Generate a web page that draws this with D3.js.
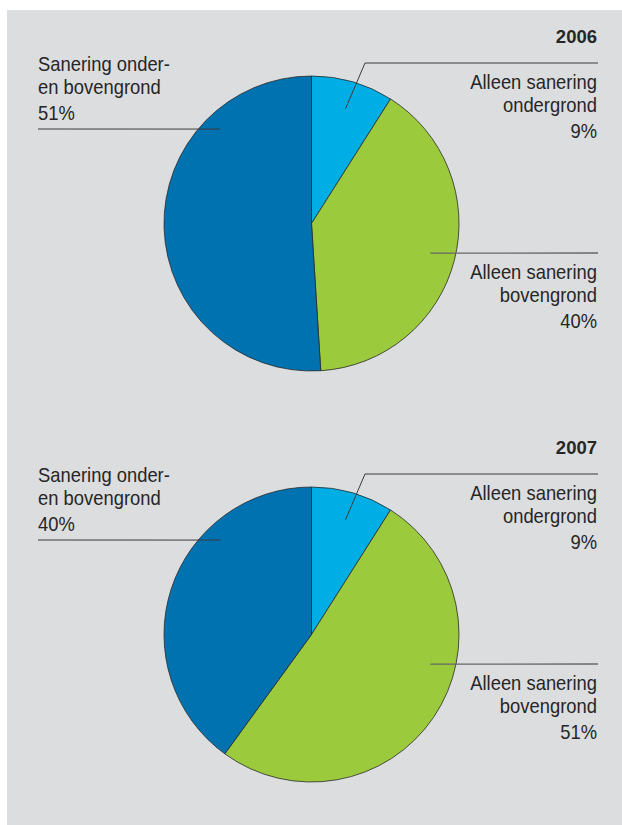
<!DOCTYPE html>
<html>
<head>
<meta charset="utf-8">
<script src="https://cdn.jsdelivr.net/npm/d3@7"></script>
<style>
  body { margin: 0; background: #fff; }
  svg text { font-family: "Liberation Sans", Arial, sans-serif; fill: #262626; }
</style>
</head>
<body>
<div id="chart"></div>
<script>
// data
const years = ['2006', '2007'];
const categories = ['Alleen sanering ondergrond', 'Alleen sanering bovengrond', 'Sanering onder- en bovengrond'];
const values2006 = [9, 40, 51];
const values2007 = [9, 51, 40];
const labelLines = [
    ['Alleen sanering', 'ondergrond'],
    ['Alleen sanering', 'bovengrond'],
    ['Sanering onder-', 'en bovengrond']
];
const colors = ['#00aee6', '#9bca3c', '#0072b0'];

const width = 622, height = 825;
const radius = 147.5;
const cx = 311.5;
const squeeze = 0.92; // the original type is a slightly condensed sans

const svg = d3.select('#chart')
    .append('svg')
    .attr('width', width)
    .attr('height', height);

svg.append('rect')
    .attr('x', 7).attr('y', 10)
    .attr('width', width - 7).attr('height', height - 10)
    .attr('fill', '#dcdddf');

const y = d3.scalePoint().domain(years).range([223.5, 634.5]);
const color = d3.scaleOrdinal().domain(categories).range(colors);

const pie = d3.pie().sort(null).value(d => d.value);
const arc = d3.arc().innerRadius(0).outerRadius(radius);

// point on the pie in polar terms (angle from 12 o'clock, clockwise)
function polar(a, r) {
    const t = a * Math.PI / 180;
    return [r * Math.sin(t), -r * Math.cos(t)];
}

// label layout relative to pie centre
const labelLayout = [
    { anchor: 'end', x: 597, y0: -135, path: [polar(16.5, 0.81 * radius), [53.5, -160.5], [286.5, -160.5]] },
    { anchor: 'end', x: 597, y0: 55, path: [polar(104, 0.83 * radius), [286.5, 29.5]] },
    { anchor: 'start', x: 38, y0: -153, path: [polar(316, 0.89 * radius), [-273.5, -94.5]] }
];

const seriesByYear = { '2006': values2006, '2007': values2007 };

years.forEach(year => {
    const cy = y(year);
    const data = categories.map((c, i) => ({ cat: c, value: seriesByYear[year][i], idx: i }));
    const g = svg.append('g').attr('transform', 'translate(' + cx + ',' + cy + ')');

    g.selectAll('path.slice')
        .data(pie(data))
        .enter().append('path')
        .attr('class', 'slice')
        .attr('d', arc)
        .attr('fill', d => color(d.data.cat))
        .attr('stroke', '#2a2a2a')
        .attr('stroke-width', 0.8);

    // leader lines
    g.selectAll('path.leader')
        .data(labelLayout)
        .enter().append('path')
        .attr('class', 'leader')
        .attr('d', d => d3.line()(d.path))
        .attr('fill', 'none')
        .attr('stroke', (d, i) => i === 1 ? '#666' : '#3a3a3a')
        .attr('stroke-width', (d, i) => i === 1 ? 1.3 : 1);

    // year
    svg.append('text')
        .attr('x', 597)
        .attr('y', cy - 180.5)
        .attr('text-anchor', 'end')
        .style('font-size', '18.5px')
        .style('font-weight', 'bold')
        .text(year);

    // labels
    data.forEach((d, i) => {
        const lay = labelLayout[i];
        const t = svg.append('text')
            .attr('transform', 'translate(' + lay.x + ',' + (cy + lay.y0) + ') scale(' + squeeze + ',1)')
            .attr('text-anchor', lay.anchor)
            .style('font-size', '20px');
        const lines = labelLines[i].concat([d.value + '%']);
        lines.forEach((line, k) => {
            t.append('tspan')
                .attr('x', 0)
                .attr('y', k * 24 + (k === 2 ? 1.5 : 0))
                .text(line);
        });
    });
});
</script>
</body>
</html>
